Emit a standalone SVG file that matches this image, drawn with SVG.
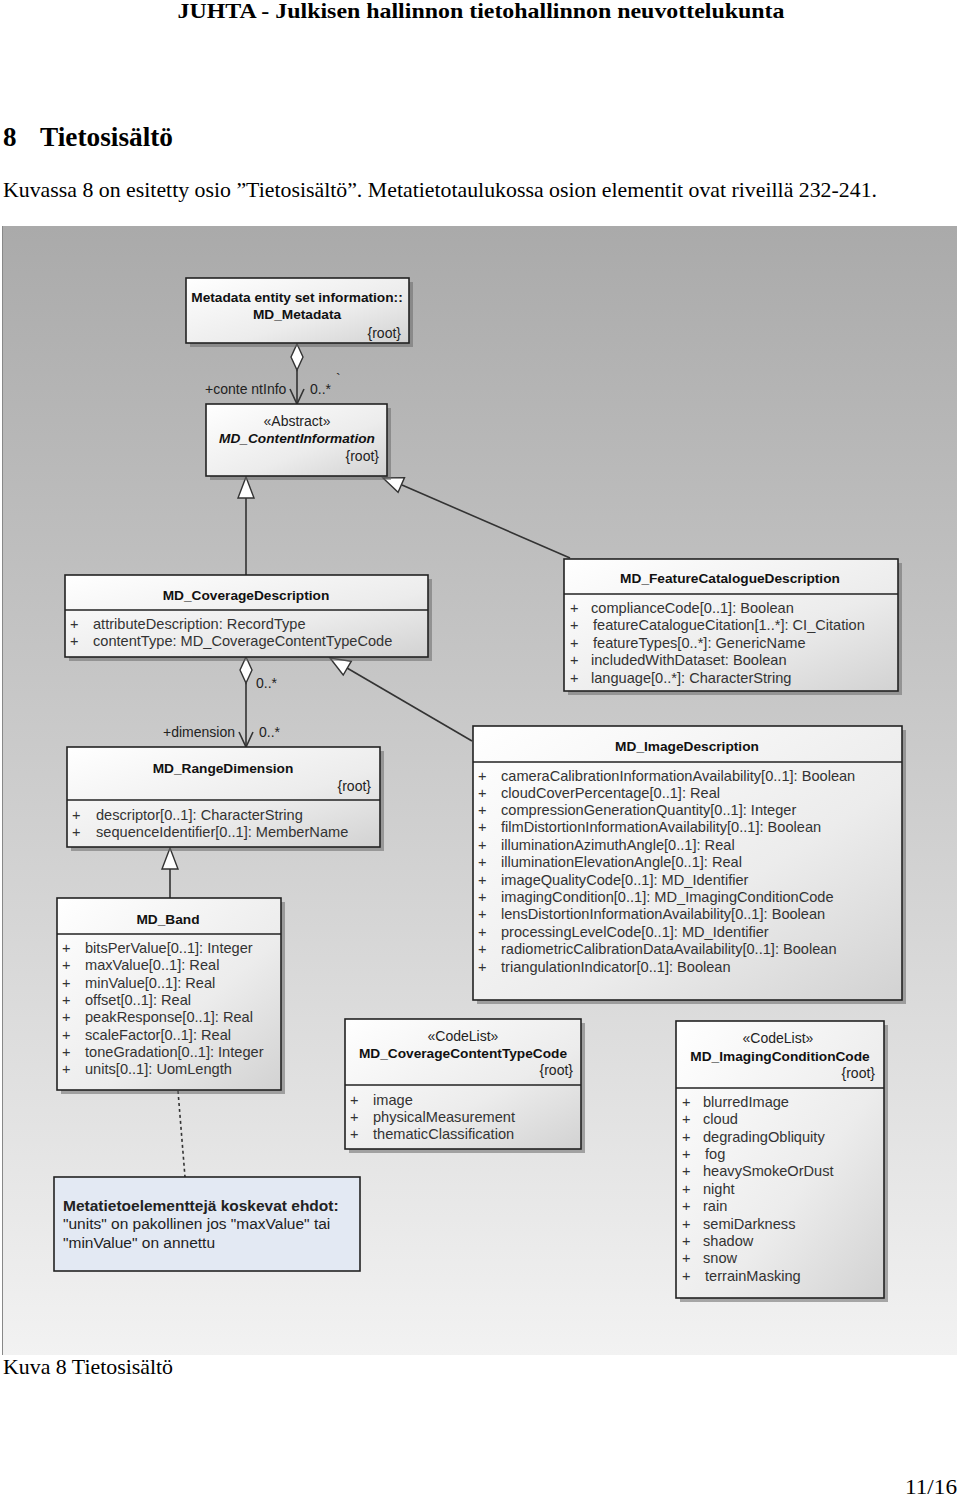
<svg xmlns="http://www.w3.org/2000/svg" width="960" height="1497" viewBox="0 0 960 1497">
<defs>
<linearGradient id="bg" x1="0" y1="0" x2="0" y2="1">
<stop offset="0" stop-color="#aaaaaa"/>
<stop offset="0.5" stop-color="#cdcdcd"/>
<stop offset="1" stop-color="#f2f2f2"/>
</linearGradient>
<linearGradient id="box" x1="0" y1="0" x2="1" y2="1">
<stop offset="0" stop-color="#ffffff"/>
<stop offset="0.6" stop-color="#ececec"/>
<stop offset="1" stop-color="#d2d2d2"/>
</linearGradient>
</defs>
<style>
.pg{font-family:"Liberation Serif","Times New Roman",serif;fill:#000}
.box{fill:url(#box);stroke:#222;stroke-width:1.6}
.sh{fill:#6a6a6a;opacity:0.55}
.div{stroke:#222;stroke-width:1.4}
.t{font-family:"Liberation Sans",Arial,sans-serif;font-size:13.7px;font-weight:bold;fill:#111;text-anchor:middle}
.ti{font-style:italic}
.st{font-family:"Liberation Sans",Arial,sans-serif;font-size:14px;fill:#222;text-anchor:middle}
.rt{font-family:"Liberation Sans",Arial,sans-serif;font-size:14px;fill:#222;text-anchor:end}
.a{font-family:"Liberation Sans",Arial,sans-serif;font-size:14.6px;fill:#333}
.lb{font-family:"Liberation Sans",Arial,sans-serif;font-size:14px;fill:#222}
.ln{stroke:#333;stroke-width:1.6;fill:none}
.tri{fill:#fff;stroke:#333;stroke-width:1.4}
.note{fill:#e3e9f3;stroke:#222;stroke-width:1.6}
.nt{font-family:"Liberation Sans",Arial,sans-serif;font-size:15.5px;fill:#222}
</style>
<rect width="960" height="1497" fill="#fff"/>
<text class="pg" x="481" y="18" font-size="22" font-weight="bold" text-anchor="middle" textLength="607" lengthAdjust="spacingAndGlyphs">JUHTA - Julkisen hallinnon tietohallinnon neuvottelukunta</text>
<text class="pg" x="3" y="146" font-size="27" font-weight="bold">8</text>
<text class="pg" x="40" y="146" font-size="27" font-weight="bold" textLength="133" lengthAdjust="spacingAndGlyphs">Tietosisältö</text>
<text class="pg" x="3" y="197" font-size="21" textLength="874" lengthAdjust="spacingAndGlyphs">Kuvassa 8 on esitetty osio ”Tietosisältö”. Metatietotaulukossa osion elementit ovat riveillä 232-241.</text>
<text class="pg" x="3" y="1374" font-size="21" textLength="170" lengthAdjust="spacingAndGlyphs">Kuva 8 Tietosisältö</text>
<text class="pg" x="957" y="1494" font-size="21" text-anchor="end" textLength="52" lengthAdjust="spacingAndGlyphs">11/16</text>

<rect x="2" y="226" width="955" height="1129" fill="url(#bg)"/>
<line x1="2.5" y1="226" x2="2.5" y2="1355" stroke="#888" stroke-width="1"/>

<g id="connectors">
<line class="ln" x1="297" y1="370" x2="297" y2="404"/>
<polygon class="tri" points="297,344 303,357 297,370 291,357"/>
<polyline class="ln" points="290,389 297,404 304,389"/>
<text class="lb" x="205" y="394">+conte ntInfo</text>
<text class="lb" x="310" y="394">0..*</text>
<text class="lb" x="336" y="384" font-size="9">`</text>
<line class="ln" x1="246" y1="498" x2="246" y2="575"/>
<polygon class="tri" points="246,477 254,498 238,498"/>
<line class="ln" x1="570" y1="558" x2="402" y2="485"/>
<polygon class="tri" points="383,478 398.1,492.2 404.5,477.6"/>
<line class="ln" x1="246" y1="683" x2="246" y2="747"/>
<polygon class="tri" points="246,657 252,670 246,683 240,670"/>
<polyline class="ln" points="239,732 246,747 253,732"/>
<text class="lb" x="256" y="688">0..*</text>
<text class="lb" x="163" y="737">+dimension</text>
<text class="lb" x="259" y="737">0..*</text>
<line class="ln" x1="472" y1="741" x2="347" y2="668"/>
<polygon class="tri" points="330,658 343.2,675 351.3,661.2"/>
<line class="ln" x1="170" y1="869" x2="170" y2="898"/>
<polygon class="tri" points="170,848 178,869 162,869"/>
<line x1="178" y1="1091" x2="185" y2="1177" stroke="#333" stroke-width="1.6" stroke-dasharray="3,3"/>
</g>

<g id="MD_Metadata">
<rect class="sh" x="190" y="282" width="223" height="65"/>
<rect class="box" x="186" y="278" width="223" height="65"/>
<text class="t" x="297" y="302">Metadata entity set information::</text>
<text class="t" x="297" y="319">MD_Metadata</text>
<text class="rt" x="401" y="338">{root}</text>
</g>

<g id="MD_ContentInformation">
<rect class="sh" x="210" y="408" width="181" height="72"/>
<rect class="box" x="206" y="404" width="181" height="72"/>
<text class="st" x="297" y="426">«Abstract»</text>
<text class="t ti" x="297" y="443">MD_ContentInformation</text>
<text class="rt" x="379" y="461">{root}</text>
</g>

<g id="MD_CoverageDescription">
<rect class="sh" x="69" y="579" width="363" height="82"/>
<rect class="box" x="65" y="575" width="363" height="82"/>
<line class="div" x1="65" y1="610" x2="428" y2="610"/>
<text class="t" x="246" y="600">MD_CoverageDescription</text>
<text class="a" x="70" y="629">+</text><text class="a" x="93" y="629">attributeDescription:  RecordType</text>
<text class="a" x="70" y="646">+</text><text class="a" x="93" y="646">contentType:  MD_CoverageContentTypeCode</text>
</g>

<g id="MD_FeatureCatalogueDescription">
<rect class="sh" x="568" y="563" width="334" height="132"/>
<rect class="box" x="564" y="559" width="334" height="132"/>
<line class="div" x1="564" y1="594" x2="898" y2="594"/>
<text class="t" x="730" y="583">MD_FeatureCatalogueDescription</text>
<text class="a" x="570" y="613">+</text><text class="a" x="591" y="613">complianceCode[0..1]:  Boolean</text>
<text class="a" x="570" y="630">+</text><text class="a" x="593" y="630">featureCatalogueCitation[1..*]:  CI_Citation</text>
<text class="a" x="570" y="648">+</text><text class="a" x="593" y="648">featureTypes[0..*]:  GenericName</text>
<text class="a" x="570" y="665">+</text><text class="a" x="591" y="665">includedWithDataset:  Boolean</text>
<text class="a" x="570" y="683">+</text><text class="a" x="591" y="683">language[0..*]:  CharacterString</text>
</g>

<g id="MD_RangeDimension">
<rect class="sh" x="71" y="751" width="313" height="100"/>
<rect class="box" x="67" y="747" width="313" height="100"/>
<line class="div" x1="67" y1="800" x2="380" y2="800"/>
<text class="t" x="223" y="773">MD_RangeDimension</text>
<text class="rt" x="371" y="791">{root}</text>
<text class="a" x="72" y="820">+</text><text class="a" x="96" y="820">descriptor[0..1]:  CharacterString</text>
<text class="a" x="72" y="837">+</text><text class="a" x="96" y="837">sequenceIdentifier[0..1]:  MemberName</text>
</g>

<g id="MD_ImageDescription">
<rect class="sh" x="477" y="730" width="429" height="274"/>
<rect class="box" x="473" y="726" width="429" height="274"/>
<line class="div" x1="473" y1="762" x2="902" y2="762"/>
<text class="t" x="687" y="751">MD_ImageDescription</text>
<text class="a" x="478" y="781">+</text><text class="a" x="501" y="781">cameraCalibrationInformationAvailability[0..1]:  Boolean</text>
<text class="a" x="478" y="798">+</text><text class="a" x="501" y="798">cloudCoverPercentage[0..1]:  Real</text>
<text class="a" x="478" y="815">+</text><text class="a" x="501" y="815">compressionGenerationQuantity[0..1]:  Integer</text>
<text class="a" x="478" y="832">+</text><text class="a" x="501" y="832">filmDistortionInformationAvailability[0..1]:  Boolean</text>
<text class="a" x="478" y="850">+</text><text class="a" x="501" y="850">illuminationAzimuthAngle[0..1]:  Real</text>
<text class="a" x="478" y="867">+</text><text class="a" x="501" y="867">illuminationElevationAngle[0..1]:  Real</text>
<text class="a" x="478" y="885">+</text><text class="a" x="501" y="885">imageQualityCode[0..1]:  MD_Identifier</text>
<text class="a" x="478" y="902">+</text><text class="a" x="501" y="902">imagingCondition[0..1]:  MD_ImagingConditionCode</text>
<text class="a" x="478" y="919">+</text><text class="a" x="501" y="919">lensDistortionInformationAvailability[0..1]:  Boolean</text>
<text class="a" x="478" y="937">+</text><text class="a" x="501" y="937">processingLevelCode[0..1]:  MD_Identifier</text>
<text class="a" x="478" y="954">+</text><text class="a" x="501" y="954">radiometricCalibrationDataAvailability[0..1]:  Boolean</text>
<text class="a" x="478" y="972">+</text><text class="a" x="501" y="972">triangulationIndicator[0..1]:  Boolean</text>
</g>

<g id="MD_Band">
<rect class="sh" x="61" y="902" width="224" height="192"/>
<rect class="box" x="57" y="898" width="224" height="192"/>
<line class="div" x1="57" y1="934" x2="281" y2="934"/>
<text class="t" x="168" y="924">MD_Band</text>
<text class="a" x="62" y="953">+</text><text class="a" x="85" y="953">bitsPerValue[0..1]:  Integer</text>
<text class="a" x="62" y="970">+</text><text class="a" x="85" y="970">maxValue[0..1]:  Real</text>
<text class="a" x="62" y="988">+</text><text class="a" x="85" y="988">minValue[0..1]:  Real</text>
<text class="a" x="62" y="1005">+</text><text class="a" x="85" y="1005">offset[0..1]:  Real</text>
<text class="a" x="62" y="1022">+</text><text class="a" x="85" y="1022">peakResponse[0..1]:  Real</text>
<text class="a" x="62" y="1040">+</text><text class="a" x="85" y="1040">scaleFactor[0..1]:  Real</text>
<text class="a" x="62" y="1057">+</text><text class="a" x="85" y="1057">toneGradation[0..1]:  Integer</text>
<text class="a" x="62" y="1074">+</text><text class="a" x="85" y="1074">units[0..1]:  UomLength</text>
</g>

<g id="MD_CoverageContentTypeCode">
<rect class="sh" x="349" y="1023" width="236" height="130"/>
<rect class="box" x="345" y="1019" width="236" height="130"/>
<line class="div" x1="345" y1="1085" x2="581" y2="1085"/>
<text class="st" x="463" y="1041">«CodeList»</text>
<text class="t" x="463" y="1058">MD_CoverageContentTypeCode</text>
<text class="rt" x="573" y="1075">{root}</text>
<text class="a" x="350" y="1105">+</text><text class="a" x="373" y="1105">image</text>
<text class="a" x="350" y="1122">+</text><text class="a" x="373" y="1122">physicalMeasurement</text>
<text class="a" x="350" y="1139">+</text><text class="a" x="373" y="1139">thematicClassification</text>
</g>

<g id="MD_ImagingConditionCode">
<rect class="sh" x="680" y="1025" width="208" height="277"/>
<rect class="box" x="676" y="1021" width="208" height="277"/>
<line class="div" x1="676" y1="1088" x2="884" y2="1088"/>
<text class="st" x="778" y="1043">«CodeList»</text>
<text class="t" x="780" y="1061">MD_ImagingConditionCode</text>
<text class="rt" x="875" y="1078">{root}</text>
<text class="a" x="682" y="1107">+</text><text class="a" x="703" y="1107">blurredImage</text>
<text class="a" x="682" y="1124">+</text><text class="a" x="703" y="1124">cloud</text>
<text class="a" x="682" y="1142">+</text><text class="a" x="703" y="1142">degradingObliquity</text>
<text class="a" x="682" y="1159">+</text><text class="a" x="705" y="1159">fog</text>
<text class="a" x="682" y="1176">+</text><text class="a" x="703" y="1176">heavySmokeOrDust</text>
<text class="a" x="682" y="1194">+</text><text class="a" x="703" y="1194">night</text>
<text class="a" x="682" y="1211">+</text><text class="a" x="703" y="1211">rain</text>
<text class="a" x="682" y="1229">+</text><text class="a" x="703" y="1229">semiDarkness</text>
<text class="a" x="682" y="1246">+</text><text class="a" x="703" y="1246">shadow</text>
<text class="a" x="682" y="1263">+</text><text class="a" x="703" y="1263">snow</text>
<text class="a" x="682" y="1281">+</text><text class="a" x="705" y="1281">terrainMasking</text>
</g>

<g id="note">
<rect class="note" x="54" y="1177" width="306" height="94"/>
<text class="nt" x="63" y="1211" font-weight="bold" fill="#111">Metatietoelementtejä koskevat ehdot:</text>
<text class="nt" x="63" y="1229">"units" on pakollinen jos "maxValue" tai</text>
<text class="nt" x="63" y="1248">"minValue" on annettu</text>
</g>
</svg>
